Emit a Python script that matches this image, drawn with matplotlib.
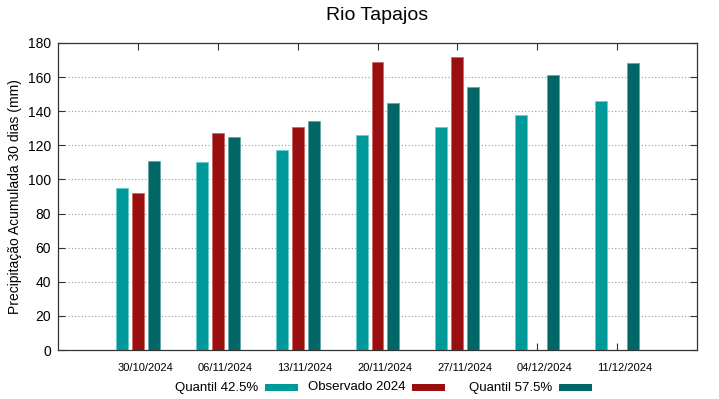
import matplotlib
matplotlib.use("Agg")
import matplotlib.pyplot as plt
from matplotlib.patches import Rectangle
import numpy as np

plt.rcParams['font.family'] = ['Liberation Sans', 'DejaVu Sans']

dates = ["30/10/2024", "06/11/2024", "13/11/2024", "20/11/2024", "27/11/2024", "04/12/2024", "11/12/2024"]
q425 = [95, 110.5, 117, 126, 131, 138, 146]
obs2024 = [92, 127, 131, 169, 172, np.nan, np.nan]
q575 = [111, 125, 134, 145, 154, 161, 168]
y_ticks = [0, 20, 40, 60, 80, 100, 120, 140, 160, 180]
series_labels = ["Quantil 42.5%", "Observado 2024", "Quantil 57.5%"]

c1 = "#009999"
c2 = "#990e0e"
c3 = "#006666"

W, H = 719, 399
fig = plt.figure(figsize=(W/100, H/100), dpi=100)
ax = fig.add_axes([58/W, 1-350/H, (697-58)/W, (350-43)/H])

x = np.arange(len(dates))
w = 0.15
off = 0.2
ax.bar(x - off, q425, w, color=c1, edgecolor="#66cccc", linewidth=0.6, zorder=3)
ax.bar(x, obs2024, w, color=c2, edgecolor="#cc6666", linewidth=0.6, zorder=3)
ax.bar(x + off, q575, w, color=c3, edgecolor="#66a3a3", linewidth=0.6, zorder=3)

ax.set_xlim(-1, 7)
ax.set_ylim(0, 180)
ax.set_yticks(y_ticks)
ax.set_xticks(x)
ax.set_xticklabels([])
for xi, d in zip(x, dates):
    ax.annotate(d, xy=(xi, 0), xycoords=('data', 'axes fraction'),
                xytext=(7.5, -18), textcoords='offset pixels',
                ha='center', va='center', fontsize=8,
                family=['Liberation Sans Narrow', 'Liberation Sans'], annotation_clip=False)
ax.tick_params(axis='both', direction='in', top=True, right=True, length=5, width=0.8, color="#333333")
ax.tick_params(axis='y', labelsize=10, pad=5)
ax.yaxis.grid(True, linestyle=(0, (1, 2)), color="#999999", linewidth=0.8, zorder=0)
for s in ax.spines.values():
    s.set_color("#333333")
    s.set_linewidth(0.9)

ax.set_ylabel("Precipitação Acumulada 30 dias (mm)", fontsize=10)
fig.text(377/W, 1-16/H, "Rio Tapajos", ha="center", va="center", fontsize=14)

# legend (gnuplot style: text then sample)
legend_y = 387.5
text_right = [258, 405, 552]
colors = [c1, c2, c3]
for lbl, tr, col in zip(series_labels, text_right, colors):
    fig.text(tr/W, 1-legend_y/H, lbl, ha="right", va="center", fontsize=9.5)
    fig.add_artist(Rectangle(((tr+7)/W, 1-(legend_y+3.5)/H), 33/W, 7/H,
                             transform=fig.transFigure, facecolor=col, edgecolor="none"))

fig.savefig("out.png", dpi=100)
